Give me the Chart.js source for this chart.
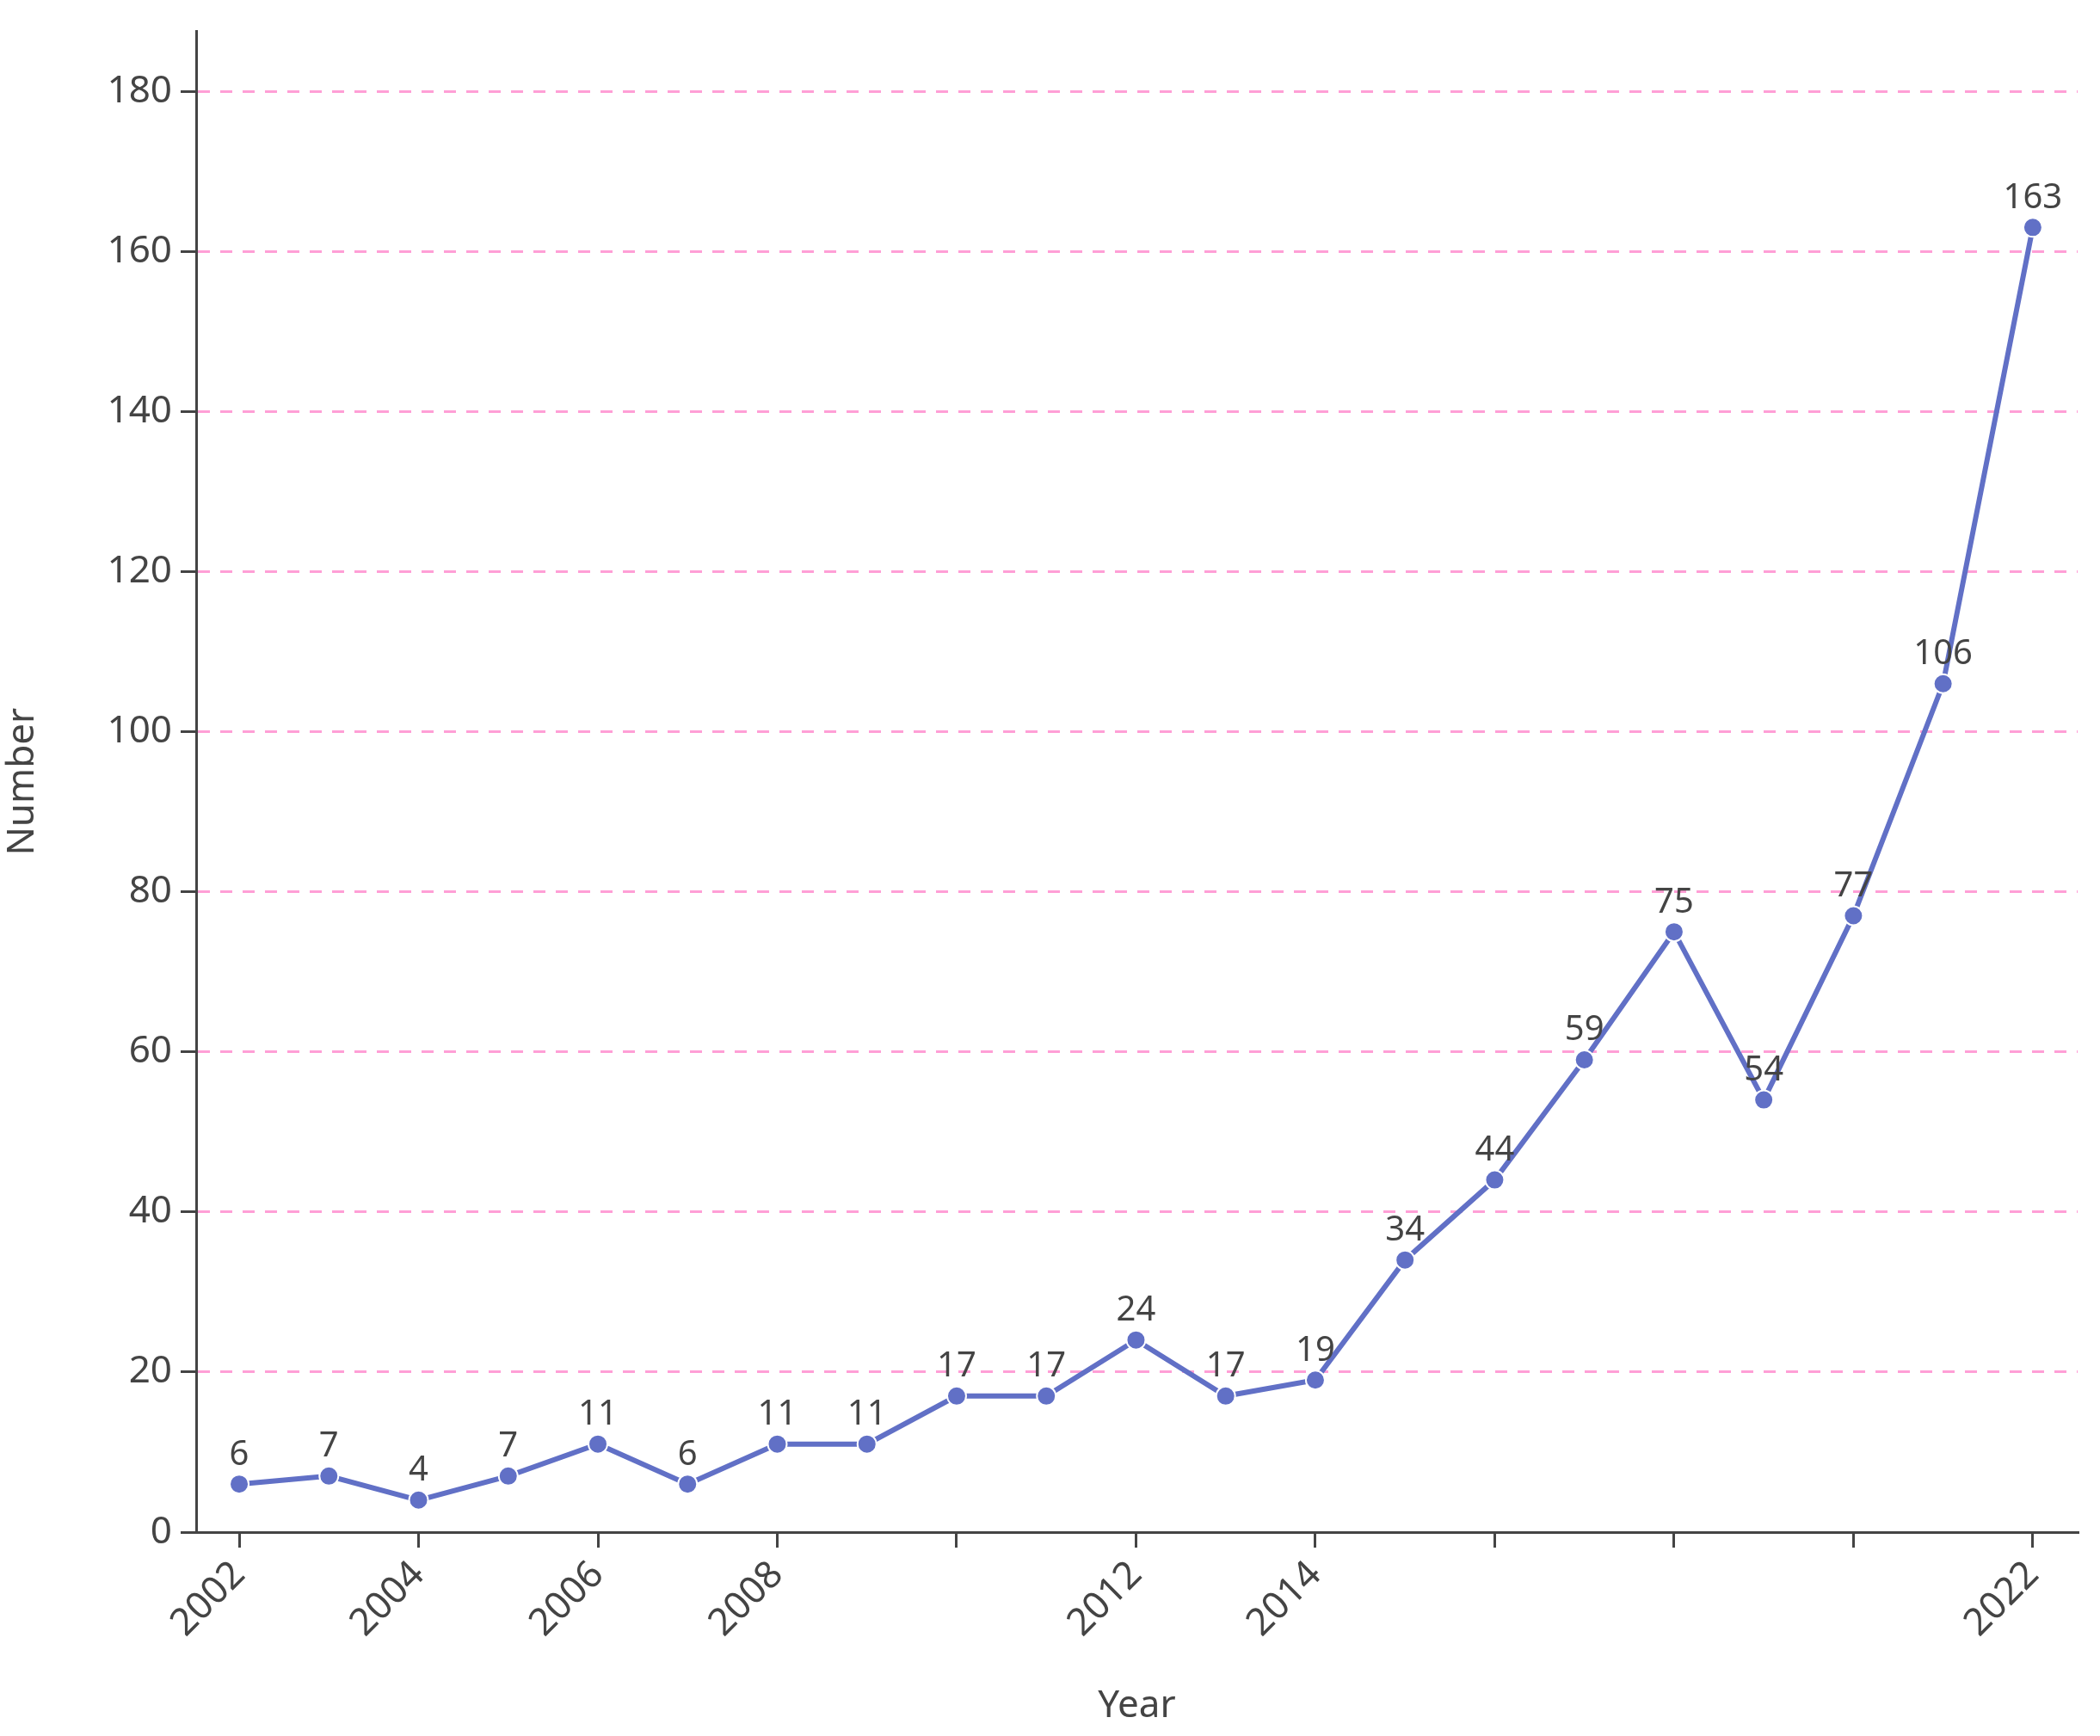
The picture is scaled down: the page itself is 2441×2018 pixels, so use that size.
<!DOCTYPE html>
<html><head><meta charset="utf-8">
<script src="https://cdn.jsdelivr.net/npm/chart.js@4"></script>
<style>html,body{margin:0;padding:0;background:#fff}#wrap{width:2441px;height:2018px}</style>
</head><body><div id="wrap"><canvas id="c" width="2441" height="2018"></canvas></div>
<script>
const years = [2002,2003,2004,2005,2006,2007,2008,2009,2010,2011,2012,2013,2014,2015,2016,2017,2018,2019,2020,2021,2022];
const counts = [6,7,4,7,11,6,11,11,17,17,24,17,19,34,44,59,75,54,77,106,163];
const xTickLabels = [2002,2004,2006,2008,2012,2014,2022];
const yTicks = [0,20,40,60,80,100,120,140,160,180];

const FONT = "'Noto Sans', 'Open Sans', sans-serif";
const TXT = '#444444';
const labelPlugin = {
  id:'valLabels',
  afterDatasetsDraw(chart){
    const ctx = chart.ctx, meta = chart.getDatasetMeta(0);
    ctx.save();
    ctx.font = '40px ' + FONT; ctx.fillStyle = TXT;
    ctx.textAlign = 'center'; ctx.textBaseline = 'bottom';
    meta.data.forEach((p,i)=>{ ctx.fillText(String(counts[i]), p.x, p.y - 14); });
    ctx.restore();
  }
};
new Chart(document.getElementById('c'), {
  type:'line',
  data:{datasets:[{data: years.map((y,i)=>({x:y,y:counts[i]})),
    borderColor:'#6170c6', backgroundColor:'#6170c6', borderWidth:6,
    pointRadius:11, pointBackgroundColor:'#6170c6', pointBorderColor:'#ffffff', pointBorderWidth:2, tension:0}]},
  options:{
    responsive:false, devicePixelRatio:1, animation:false,
    layout:{padding:{left:0,right:26,top:22,bottom:0}},
    plugins:{legend:{display:false}, tooltip:{enabled:false}},
    scales:{
      x:{type:'linear', min:2001.52, max:2022.5,
        afterBuildTicks(s){ s.ticks = []; for(let y=2002;y<=2022;y+=2) s.ticks.push({value:y}); },
        afterFit(s){ s.height = 237; },
        ticks:{minRotation:45, maxRotation:45, color:TXT, font:{size:44, family:FONT}, padding:6,
          callback:(v)=> xTickLabels.includes(v) ? String(v) : ''},
        grid:{display:true, drawOnChartArea:false, drawTicks:true, tickLength:18, color:'#444', lineWidth:3},
        border:{display:true, color:'#444', width:3},
        title:{display:true, text:'Year', color:TXT, font:{size:44, family:FONT}, padding:{top:0,bottom:8}}
      },
      y:{min:0, max:187.5,
        afterBuildTicks(s){ s.ticks = yTicks.map(v=>({value:v})); },
        afterFit(s){ s.width = 228; },
        ticks:{color:TXT, font:{size:44, family:FONT}, padding:10},
        grid:{color:(c)=> c.tick && c.tick.value===0 ? 'rgba(0,0,0,0)' : '#ff9fd6', lineWidth:3,
          drawTicks:true, tickLength:18, tickColor:'#444', tickBorderDash:[], tickWidth:3},
        border:{display:true, color:'#444', width:3, dash:[14,12]},
        title:{display:true, text:'Number', color:TXT, font:{size:44, family:FONT}, padding:{top:0,bottom:10}}
      }
    }
  },
  plugins:[labelPlugin]
});
</script></body></html>
